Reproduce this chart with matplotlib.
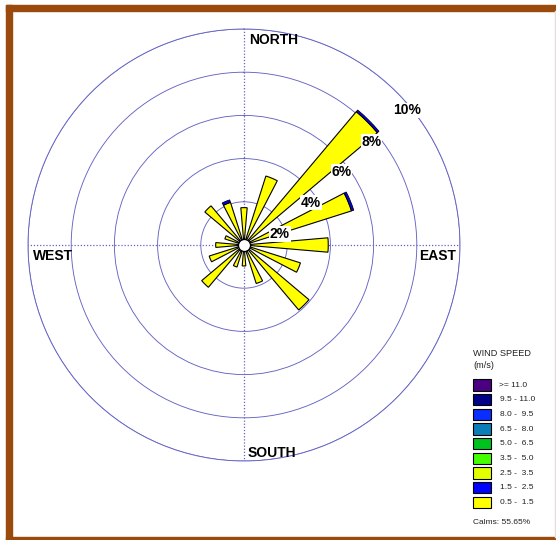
import numpy as np
import matplotlib
matplotlib.use("Agg")
import matplotlib.pyplot as plt
from matplotlib.patches import Rectangle

plt.rcParams['font.family'] = ['Liberation Sans', 'DejaVu Sans']

# ---- data ----
directions = np.arange(0, 360, 22.5)  # degrees from north, clockwise
freq_05_15 = [1.73, 3.35, 8.07, 5.22, 3.90, 2.74, 3.93, 1.87,
              0.97, 1.07, 2.56, 1.69, 1.31, 0.93, 2.37, 2.07]
freq_15_25 = [0.00, 0.00, 0.10, 0.11, 0.00, 0.00, 0.00, 0.00,
              0.00, 0.00, 0.00, 0.00, 0.00, 0.00, 0.00, 0.12]
ring_values = [2, 4, 6, 8, 10]
ring_labels = ["2%", "4%", "6%", "8%", "10%"]
compass_labels = ["NORTH", "EAST", "SOUTH", "WEST"]
speed_classes = [">= 11.0", "9.5 - 11.0", "8.0 -  9.5", "6.5 -  8.0", "5.0 -  6.5",
                 "3.5 -  5.0", "2.5 -  3.5", "1.5 -  2.5", "0.5 -  1.5"]
speed_colors = ["#4B0082", "#000088", "#0A2EFF", "#0B7DB8", "#00C21E",
                "#44FF00", "#E2FF00", "#0000FF", "#FFFF00"]
calms = 55.65

W, H = 556, 540
fig = plt.figure(figsize=(W / 100, H / 100), dpi=100)
fig.patch.set_facecolor("white")

cx, cy, R = 244, 245, 216
ax = fig.add_axes([(cx - R) / W, (H - cy - R) / H, 2 * R / W, 2 * R / H],
                  projection="polar")
ax.set_theta_zero_location("N")
ax.set_theta_direction(-1)
ax.set_ylim(0, 10)
ax.set_facecolor("none")

grid_col = "#6464C4"
ax.set_rticks(ring_values)
ax.set_yticklabels([])
ax.set_thetagrids([0, 90, 180, 270], labels=["", "", "", ""])
ax.yaxis.grid(True, color=grid_col, linewidth=0.65, linestyle="-")
ax.xaxis.grid(True, color=grid_col, linewidth=0.9, linestyle=(0, (1, 1.5)))
ax.spines["polar"].set_color(grid_col)
ax.spines["polar"].set_linewidth(0.65)
ax.tick_params(length=0)

theta = np.deg2rad(directions)
width = np.deg2rad(9.8)
y1 = np.array(freq_05_15)
y2 = np.array(freq_15_25)
ax.bar(theta, y1, width=width, bottom=0, color=speed_colors[8],
       edgecolor="black", linewidth=0.8, zorder=3)
mask = y2 > 0
ax.bar(theta[mask], y2[mask], width=width, bottom=y1[mask], color=speed_colors[7],
       edgecolor="black", linewidth=0.6, zorder=3)
ax.scatter([0], [0], s=75, c="white", edgecolors="black", linewidths=0.9,
           zorder=5, clip_on=False)

# ring labels
label_pos = [(73.0, 1.74), (57.6, 3.66), (53.1, 5.65), (51.1, 7.59), (50.4, 9.77)]
for (ang, rr), txt in zip(label_pos, ring_labels):
    ax.text(np.deg2rad(ang), rr, txt, ha="center", va="center", fontsize=10,
            fontweight="bold", zorder=6,
            bbox=dict(facecolor="white", edgecolor="none", pad=0.5))

# compass labels (axes fraction)
comp_pos = [(0.5116, 0.9745, "left"), (0.905, 0.4745, "left"),
            (0.509, 0.0185, "left"), (0.0116, 0.4745, "left")]
for (x, y, ha), txt in zip(comp_pos, compass_labels):
    ax.text(x, y, txt, transform=ax.transAxes, ha=ha, va="center",
            fontsize=10, fontweight="bold", zorder=6)

# overlay for frame and legend (pixel coordinates)
ov = fig.add_axes([0, 0, 1, 1])
ov.set_xlim(0, W)
ov.set_ylim(H, 0)
ov.axis("off")
ov.patch.set_alpha(0)
brown = "#9A4A0C"
ov.add_patch(Rectangle((5.5, 5), 6, 535, color=brown, zorder=1))
ov.add_patch(Rectangle((5.5, 5), W, 6, color=brown, zorder=1))
ov.add_patch(Rectangle((5.5, 536.5), W, 5, color=brown, zorder=1))
ov.plot([554.5, 554.5], [11, 536.5], color="#E8DCD4", linewidth=1)

# legend
ov.text(473, 353, "WIND SPEED", fontsize=6.6, va="center", ha="left", color="#222222")
ov.text(473, 366, "(m/s)", fontsize=6.6, va="center", ha="left", color="#222222")
for i, (lab, col) in enumerate(zip(speed_classes, speed_colors)):
    top = 379.3 + i * 14.65
    ov.add_patch(Rectangle((473, top), 17.5, 11.5, facecolor=col,
                           edgecolor="black", linewidth=0.8))
    ov.text(499 if i == 0 else 500.5, top + 6, lab, fontsize=6, va="center",
            ha="left", color="#222222")
ov.text(473, 522.5, f"Calms: {calms:.2f}%", fontsize=6, va="center", ha="left",
        color="#222222")

fig.savefig("out.png", dpi=100, facecolor="white")
